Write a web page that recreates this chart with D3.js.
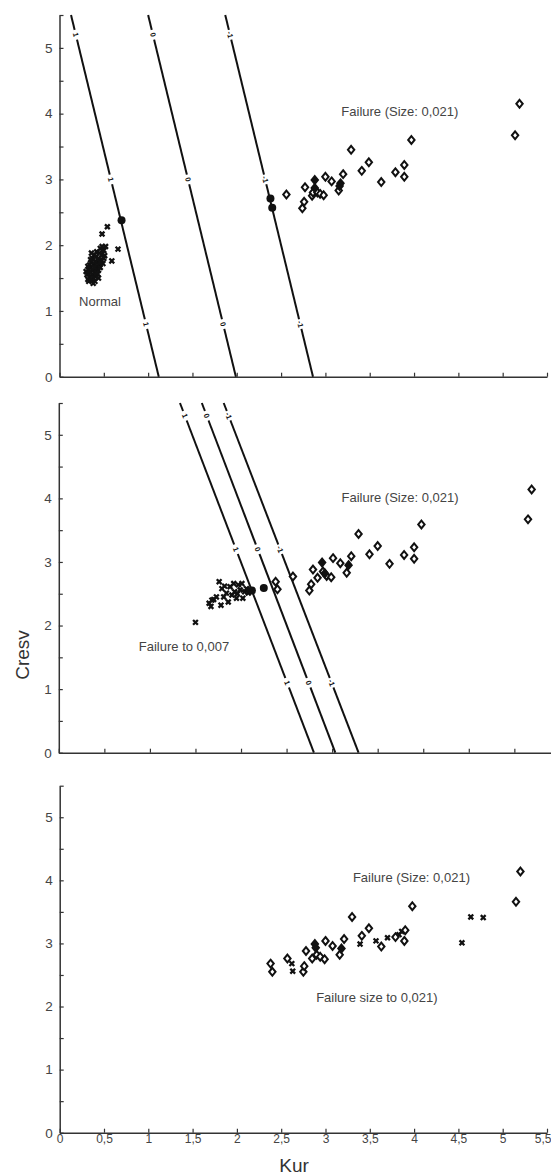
<!DOCTYPE html>
<html><head><meta charset="utf-8">
<script src="https://cdn.jsdelivr.net/npm/d3@7"></script>
<style>
body{margin:0;background:#fff}
svg{display:block}
text{font-family:"Liberation Sans",Arial,Helvetica,sans-serif}
</style>
</head><body>
<svg id="chart" width="551" height="1176"></svg>
<script>
// ---------------- DATA ----------------
const kurTicks = [0,0.5,1,1.5,2,2.5,3,3.5,4,4.5,5,5.5];
const kurTickLabels = ["0","0,5","1","1,5","2","2,5","3","3,5","4","4,5","5","5,5"];
const cresvTicks = [0,0.5,1,1.5,2,2.5,3,3.5,4,4.5,5,5.5];
const cresvTickLabels = ["0","","1","","2","","3","","4","","5",""];

// Panel 1 : Normal vs Failure 0,021
const p1Normal = [[0.30,1.60],[0.31,1.55],[0.32,1.48],[0.33,1.45],[0.33,1.62],[0.34,1.52],[0.34,1.70],[0.35,1.58],[0.35,1.66],[0.36,1.47],[0.36,1.75],[0.37,1.55],[0.37,1.63],[0.37,1.80],[0.38,1.50],[0.38,1.70],[0.39,1.58],[0.39,1.85],[0.40,1.65],[0.40,1.75],[0.41,1.52],[0.41,1.60],[0.41,1.82],[0.42,1.68],[0.42,1.90],[0.43,1.56],[0.43,1.74],[0.44,1.62],[0.44,1.80],[0.45,1.70],[0.45,1.88],[0.46,1.95],[0.46,1.66],[0.47,1.78],[0.48,1.86],[0.48,1.98],[0.49,1.72],[0.50,1.92],[0.51,1.84],[0.52,1.98],[0.48,2.17],[0.54,2.28],[0.59,1.76],[0.66,1.94],[0.38,1.42],[0.32,1.68],[0.36,1.88],[0.44,1.50],[0.40,1.45],[0.35,1.78],[0.39,1.66],[0.42,1.58],[0.46,1.74],[0.50,1.80]];
const p1Diamonds = [[2.56,2.77],[2.74,2.56],[2.76,2.66],[2.77,2.88],[2.85,2.75],[2.86,2.80],[2.91,2.80],[2.94,2.78],[2.98,2.76],[3.00,3.04],[3.07,2.97],[3.15,2.83],[3.20,3.08],[3.29,3.45],[3.41,3.13],[3.49,3.26],[3.63,2.96],[3.79,3.11],[3.89,3.04],[3.89,3.22],[3.97,3.60],[5.14,3.67],[5.19,4.15]];
const p1FilledDiamonds = [[2.88,2.99],[2.88,2.87],[3.17,2.94],[3.16,2.90]];
const p1Dots = [[0.70,2.38],[2.38,2.71],[2.40,2.57]];
// boundary lines: Kur value at Cresv=0 and at Cresv=5.5
const p1Levels = ["1","0","-1"];
const p1KurAtZero = [1.12,1.99,2.86];
const p1KurAtTop = [0.13,1.00,1.87];
const p1LabelCresv = [5.2,3.0,0.8];

// Panel 2 : Failure 0,007 vs Failure 0,021
const p2Crosses = [[1.50,2.05],[1.65,2.35],[1.67,2.30],[1.68,2.40],[1.70,2.41],[1.76,2.69],[1.78,2.32],[1.79,2.58],[1.81,2.45],[1.84,2.51],[1.86,2.37],[1.88,2.61],[1.90,2.48],[1.92,2.66],[1.93,2.53],[1.95,2.43],[1.97,2.64],[1.99,2.56],[2.01,2.66],[2.02,2.43],[2.04,2.53],[2.06,2.58],[2.08,2.51],[2.10,2.56],[1.73,2.45],[1.82,2.62],[1.96,2.50]];
const p2Diamonds = [[2.38,2.69],[2.40,2.57],[2.57,2.77],[2.75,2.55],[2.77,2.65],[2.79,2.88],[2.84,2.75],[2.90,2.85],[2.94,2.78],[2.99,2.76],[3.01,3.06],[3.09,2.98],[3.16,2.83],[3.21,3.09],[3.29,3.44],[3.41,3.12],[3.50,3.25],[3.63,2.97],[3.79,3.11],[3.90,3.23],[3.90,3.05],[3.98,3.59],[5.15,3.67],[5.19,4.14]];
const p2FilledDiamonds = [[2.89,2.99],[3.18,2.95],[2.92,2.82]];
const p2Dots = [[2.12,2.55],[2.25,2.59]];
const p2Levels = ["1","0","-1"];
const p2KurAtZero = [2.80,3.035,3.29];
const p2KurAtTop = [1.33,1.57,1.81];
const p2LabelCresv = [5.3,3.2,1.1];

// Panel 3 : Failure size to 0,021 vs Failure 0,021
const p3Diamonds = [[2.38,2.68],[2.40,2.55],[2.57,2.76],[2.75,2.55],[2.76,2.64],[2.78,2.88],[2.85,2.76],[2.90,2.82],[2.94,2.79],[2.99,2.75],[3.00,3.04],[3.08,2.96],[3.16,2.82],[3.21,3.07],[3.30,3.42],[3.41,3.12],[3.49,3.24],[3.63,2.95],[3.79,3.10],[3.89,3.04],[3.90,3.21],[3.98,3.59],[5.15,3.66],[5.20,4.14]];
const p3FilledDiamonds = [[2.88,2.99],[2.89,2.93],[3.18,2.92]];
const p3Crosses = [[2.62,2.68],[2.63,2.56],[3.39,2.99],[3.57,3.04],[3.70,3.09],[3.83,3.14],[3.86,3.19],[4.54,3.01],[4.64,3.42],[4.78,3.41]];

// ---------------- LAYOUT ----------------
const svg = d3.select("#chart");
const ink = "#111";
const axisColor = "#333";
const textColor = "#444";

const panels = [
  {x0:59.5, x1:547, yb:376.7, yt:15, xLabels:false,
   crosses:p1Normal, diamonds:p1Diamonds, filled:p1FilledDiamonds, dots:p1Dots,
   lines:{levels:p1Levels, atZero:p1KurAtZero, atTop:p1KurAtTop, labelY:p1LabelCresv},
   notes:[{t:"Failure (Size: 0,021)", x:3.84, y:4.03},{t:"Normal", x:0.457, y:1.14}]},
  {x0:58.8, x1:559.9, yb:752.7, yt:403, xLabels:false,
   crosses:p2Crosses, diamonds:p2Diamonds, filled:p2FilledDiamonds, dots:p2Dots,
   lines:{levels:p2Levels, atZero:p2KurAtZero, atTop:p2KurAtTop, labelY:p2LabelCresv},
   notes:[{t:"Failure (Size: 0,021)", x:3.745, y:4.01},{t:"Failure to 0,007", x:1.374, y:1.67}]},
  {x0:59.7, x1:547, yb:1132.7, yt:785.7, xLabels:true,
   crosses:p3Crosses, diamonds:p3Diamonds, filled:p3FilledDiamonds, dots:[],
   lines:null,
   notes:[{t:"Failure (Size: 0,021)", x:3.97, y:4.04},{t:"Failure size to 0,021)", x:3.58, y:2.15}]}
];

const crossPath = "M-2.4,-2.4L2.4,2.4M-2.4,2.4L2.4,-2.4";
const diamondPath = "M0,-3.9L3.2,0L0,3.9L-3.2,0Z";

panels.forEach((p) => {
  const x = d3.scaleLinear().domain([0,5.5]).range([p.x0,p.x1]);
  const y = d3.scaleLinear().domain([0,5.5]).range([p.yb,p.yt]);
  const g = svg.append("g");

  // Y axis
  const ya = g.append("g").attr("transform",`translate(${p.x0},0)`)
    .call(d3.axisLeft(y).tickValues(cresvTicks).tickSizeInner(-4).tickSizeOuter(0).tickPadding(7)
      .tickFormat((d,i)=>cresvTickLabels[i]));
  ya.select(".domain").attr("stroke",axisColor).attr("stroke-width",1.5);
  ya.selectAll(".tick line").attr("stroke",axisColor).attr("stroke-width",1.2);
  ya.selectAll(".tick text").attr("fill",textColor).style("font-size","13.5px");

  // X axis
  const xa = g.append("g").attr("transform",`translate(0,${p.yb})`)
    .call(d3.axisBottom(x).tickValues(kurTicks).tickSizeInner(-4).tickSizeOuter(0).tickPadding(2)
      .tickFormat((d,i)=> p.xLabels ? kurTickLabels[i] : ""));
  xa.select(".domain").attr("stroke",axisColor).attr("stroke-width",1.5);
  xa.selectAll(".tick line").attr("stroke",axisColor).attr("stroke-width",1.2);
  xa.selectAll(".tick text").attr("fill",textColor).style("font-size","12px");
  if (p.xLabels) {
    xa.selectAll(".tick text").filter(d => d === 5.5).attr("text-anchor","end").attr("dx","4");
  }

  // boundary lines
  if (p.lines) {
    const L = p.lines;
    L.levels.forEach((lev,i) => {
      const xa0 = x(L.atZero[i]), ya0 = y(0), xa1 = x(L.atTop[i]), ya1 = y(5.5);
      g.append("line").attr("x1",xa0).attr("y1",ya0).attr("x2",xa1).attr("y2",ya1)
        .attr("stroke",ink).attr("stroke-width",2);
      const ang = Math.atan2(ya1-ya0, xa1-xa0)*180/Math.PI;
      L.labelY.forEach(cy => {
        const t = cy/5.5;
        const kx = L.atZero[i] + (L.atTop[i]-L.atZero[i])*t;
        const lg = g.append("g").attr("transform",`translate(${x(kx)},${y(cy)}) rotate(${ang+180})`);
        lg.append("rect").attr("x",-5).attr("y",-3.5).attr("width",10).attr("height",7).attr("fill","#fff");
        lg.append("text").attr("text-anchor","middle").attr("dy","0.35em")
          .attr("fill",ink).style("font-size","7.5px").style("font-weight","bold").text(lev);
      });
    });
  }

  // markers
  g.append("g").selectAll("path").data(p.crosses).join("path")
    .attr("transform",d=>`translate(${x(d[0])},${y(d[1])})`)
    .attr("d",crossPath).attr("stroke",ink).attr("stroke-width",2.3).attr("fill","none");
  g.append("g").selectAll("path").data(p.diamonds).join("path")
    .attr("transform",d=>`translate(${x(d[0])},${y(d[1])})`)
    .attr("d",diamondPath).attr("stroke",ink).attr("stroke-width",2).attr("fill","#fff");
  g.append("g").selectAll("path").data(p.filled).join("path")
    .attr("transform",d=>`translate(${x(d[0])},${y(d[1])})`)
    .attr("d",diamondPath).attr("stroke",ink).attr("stroke-width",2).attr("fill",ink);
  g.append("g").selectAll("circle").data(p.dots).join("circle")
    .attr("cx",d=>x(d[0])).attr("cy",d=>y(d[1])).attr("r",4).attr("fill",ink);

  // annotations
  g.selectAll("text.note").data(p.notes).join("text").attr("class","note")
    .attr("x",d=>x(d.x)).attr("y",d=>y(d.y)).attr("dy","0.35em")
    .attr("text-anchor","middle").attr("fill",textColor).style("font-size","13px").text(d=>d.t);
});

// axis titles
svg.append("text").attr("transform","translate(22,655) rotate(-90)").attr("text-anchor","middle")
  .attr("dy","0.35em").attr("fill","#333").style("font-size","19px").text("Cresv");
svg.append("text").attr("x",294).attr("y",1165).attr("text-anchor","middle")
  .attr("dy","0.35em").attr("fill","#333").style("font-size","19px").text("Kur");
</script>
</body></html>
